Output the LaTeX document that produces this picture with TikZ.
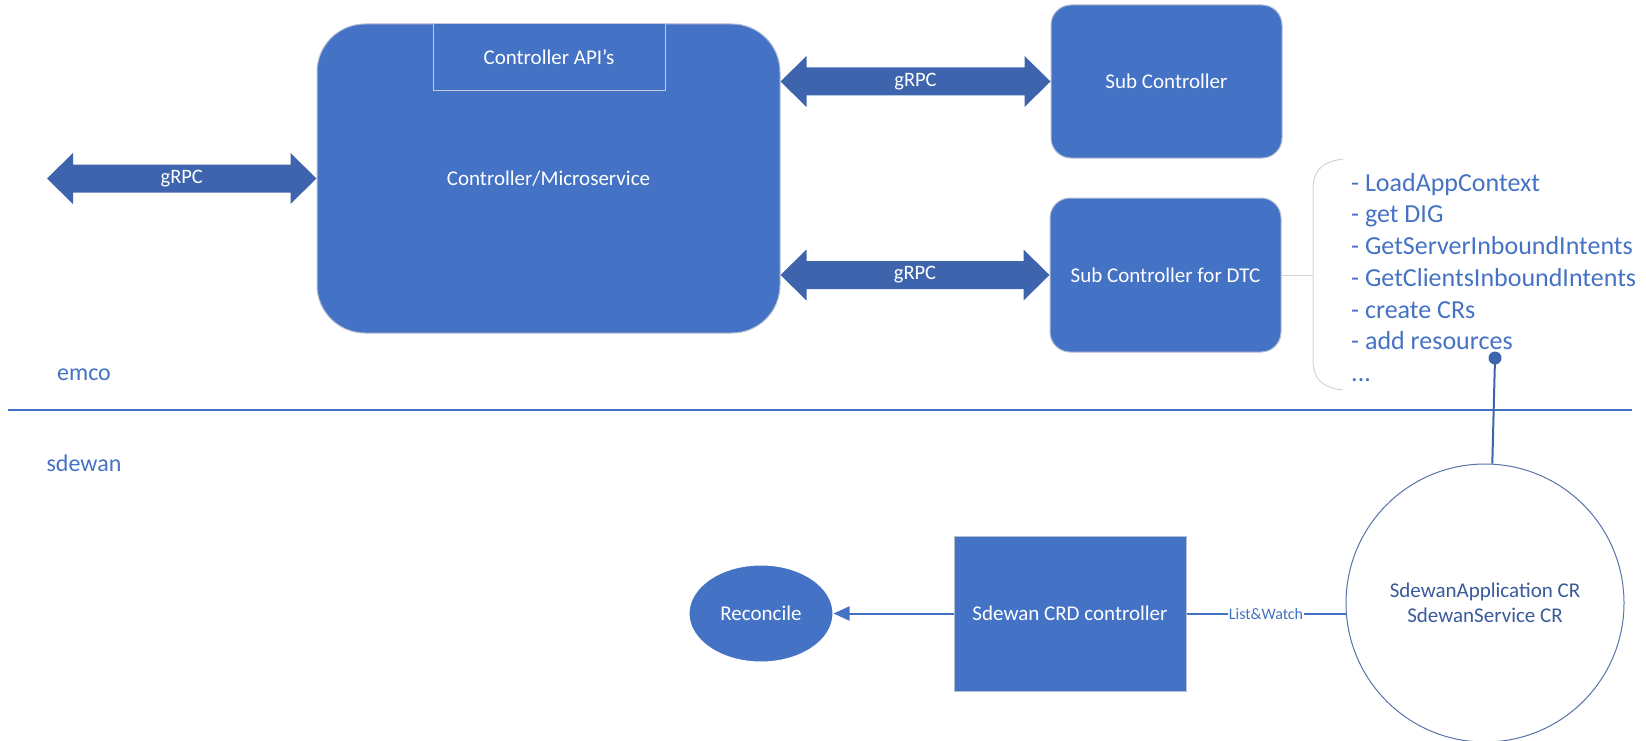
\documentclass[tikz,border=0pt]{standalone}
\usepackage{fontspec}
\setmainfont{Carlito}
\usetikzlibrary{shapes.geometric,arrows.meta,calc}
\definecolor{boxblue}{HTML}{4472C4}
\definecolor{arrowblue}{HTML}{3D64AC}
\definecolor{darkblue}{HTML}{3A5A9A}
\definecolor{edgegray}{HTML}{B4BED2}
\definecolor{bracegray}{HTML}{D4D4D4}
\newcommand{\grpclink}[3]{%
  \fill[arrowblue] (#1) -- ++(26,-25.5) -- ++(0,11.5) -- ($(#2)+(-26,-14)$) -- ++(0,-11.5)
    -- (#2) -- ++(-26,25.5) -- ++(0,-11.5) -- ($(#1)+(26,14)$) -- ++(0,11.5) -- cycle;
  \node[linklabel] at ($(#1)!0.5!(#2)$) {#3};}
\begin{document}
\begin{tikzpicture}[x=1pt,y=-1pt,
    box/.style={draw=edgegray,line width=1pt,fill=boxblue,text=white,inner sep=0,
      font=\fontsize{21}{25}\selectfont},
    linklabel/.style={text=white,inner sep=0,font=\fontsize{20.5}{24}\selectfont},
    layer/.style={text=boxblue,inner sep=0,font=\fontsize{24}{28}\selectfont},
    thinline/.style={draw=boxblue,line width=2pt}]
  \useasboundingbox (0,0) rectangle (1646,741);
  \node[box,rounded corners=48,minimum width=463,minimum height=309] (main) at (548.5,178.5) {Controller/Microservice};
  \node[box,draw=edgegray!80!white,minimum width=232,minimum height=67] (api) at (549,57.5) {Controller API’s};
  \node[box,rounded corners=20,minimum width=231,minimum height=153] (sub) at (1166.5,81.5) {Sub Controller};
  \node[box,rounded corners=20,minimum width=231,minimum height=154] (dtc) at (1165.5,275) {Sub Controller for DTC};
  \coordinate (client) at (47,178.5);
  \coordinate (m1) at (main.east |- sub.west);
  \coordinate (m2) at (main.east |- dtc.west);
  \grpclink{client}{main.west}{gRPC}
  \grpclink{m1}{sub.west}{gRPC}
  \grpclink{m2}{dtc.west}{gRPC}
  \coordinate (bracemid) at (1313,275);
  \draw[bracegray,line width=1pt] (1343,159) .. controls (1320,162) and (1313,172) .. (1313,190) -- (1313,359)
    .. controls (1313,378) and (1320,387) .. (1343,390);
  \draw[bracegray,line width=1pt] (dtc.east) -- (bracemid);
  \node[anchor=north west,align=left,inner sep=0,text=boxblue,font=\fontsize{26}{31.7}\selectfont] (steps) at (1351,173)
    {- LoadAppContext\\- get DIG\\- GetServerInboundIntents\\- GetClientsInboundIntents\\- create CRs\\- add resources\\...};
  \node[layer] (emco) at (84,375) {emco};
  \node[layer] (sdewan) at (84,463) {sdewan};
  \coordinate (sepL) at (8,410);
  \coordinate (sepR) at (1632,410);
  \draw[thinline] (sepL) -- (sepR);
  \node[circle,draw=darkblue!85,line width=1pt,fill=white,minimum size=278,inner sep=0,align=center,text=darkblue,
    font=\fontsize{21}{25}\selectfont] (crs) at (1485,603) {SdewanApplication CR\\SdewanService CR};
  \coordinate (dot) at (1495,358);
  \draw[thinline,draw=arrowblue] (dot) -- (crs.87);
  \fill[arrowblue] (dot) circle (6.5);
  \node[box,minimum width=232,minimum height=155] (crd) at (1070,613.5) {Sdewan CRD controller};
  \node[box,ellipse,draw=white,minimum width=144,minimum height=97] (rec) at (761,613.5) {Reconcile};
  \draw[thinline,-{Triangle[length=16pt,width=14pt]}] (crd.west) -- (rec.east);
  \draw[thinline] (crd.east) -- node[fill=white,inner sep=1,text=boxblue,font=\fontsize{16}{18}\selectfont] {List\&Watch} (crd.east -| crs.west);
\end{tikzpicture}
\end{document}
